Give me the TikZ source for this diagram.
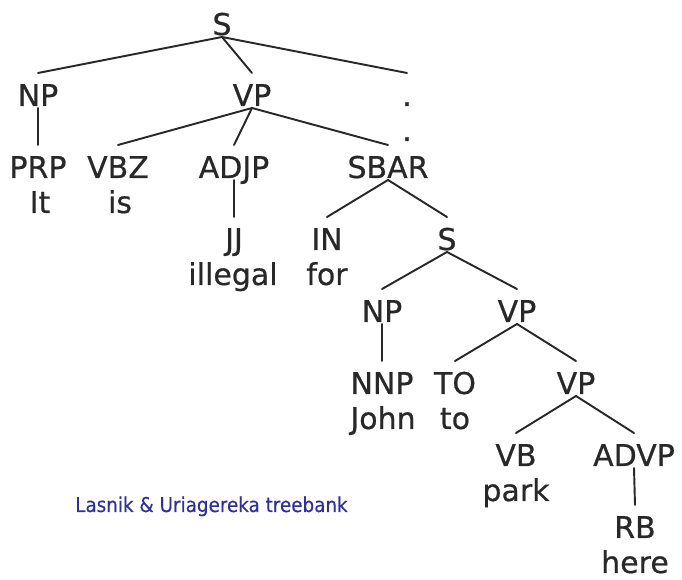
\documentclass[tikz,border=0pt]{standalone}
\usepackage{fontspec}
\setmainfont{DejaVu Sans}
% labels: DejaVu Sans, slightly emboldened
\newfontfamily\treefont{DejaVu Sans}[BoldFont={DejaVu Sans},BoldFeatures={FakeBold=0.6}]
\newfontfamily\capfont{DejaVu Sans Condensed}[BoldFont={DejaVu Sans Condensed},BoldFeatures={FakeBold=0.3}]
\definecolor{ink}{RGB}{40,40,40}
\definecolor{capblue}{RGB}{48,48,150}
\begin{document}
\begin{tikzpicture}[x=0.75pt,y=-0.75pt,
  cat/.style={anchor=base,inner sep=0pt,text=ink,font=\treefont\bfseries\fontsize{22.5}{26}\selectfont},
  word/.style={cat},
  branch/.style={draw=ink,line width=1.45pt,line cap=round}]
\useasboundingbox (0,0) rectangle (682,580);

% level baselines (px, downward): 35, 106, 178, 250, 322, 394, 466, 538
\node[cat] (s)    at (222,35)  {S};
\node[cat] (np)   at (38,106)  {NP};
\node[cat] (vp)   at (252,106) {VP};
\node[cat] (pu)   at (407,106) {.};
\node[word] (wpu) at (407,141) {.};

\node[cat] (prp)  at (38,178)  {PRP};
\node[word] (wit) at (40,213)  {It};
\node[cat] (vbz)  at (118,178) {VBZ};
\node[word] (wis) at (120,213) {is};
\node[cat] (adjp) at (234,178) {ADJP};
\node[cat] (sbar) at (388,178) {SBAR};

\node[cat] (jj)   at (234,250) {JJ};
\node[word] (wil) at (233,285) {illegal};
\node[cat] (in)   at (327,250) {IN};
\node[word] (wfo) at (327,285) {for};
\node[cat] (s2)   at (447,250) {S};

\node[cat] (np2)  at (382,322) {NP};
\node[cat] (vp2)  at (517,322) {VP};

\node[cat] (nnp)  at (382,394) {NNP};
\node[word] (wjo) at (383,429) {John};
\node[cat] (to)   at (455,394) {TO};
\node[word] (wto) at (455,429) {to};
\node[cat] (vp3)  at (576,394) {VP};

\node[cat] (vb)   at (516,466) {VB};
\node[word] (wpa) at (516,501) {park};
\node[cat] (advp) at (634,466) {ADVP};

\node[cat] (rb)   at (635,538) {RB};
\node[word] (whe) at (635,573) {here};

% branches: from just under the parent label to just above the child label
\newcommand\branchto[2]{\draw[branch] ([shift={(0,2)}]#1.base) -- ([shift={(0,-33)}]#2.base);}
\branchto{s}{np}
\branchto{s}{vp}
\branchto{s}{pu}
\branchto{np}{prp}
\branchto{vp}{vbz}
\branchto{vp}{adjp}
\branchto{vp}{sbar}
\branchto{adjp}{jj}
\branchto{sbar}{in}
\branchto{sbar}{s2}
\branchto{s2}{np2}
\branchto{s2}{vp2}
\branchto{np2}{nnp}
\branchto{vp2}{to}
\branchto{vp2}{vp3}
\branchto{vp3}{vb}
\branchto{vp3}{advp}
\branchto{advp}{rb}

\node[anchor=base west,inner sep=0pt,text=capblue,font=\capfont\bfseries\fontsize{15.3}{18}\selectfont] (src) at (75,512) {Lasnik \& Uriagereka treebank};
\end{tikzpicture}
\end{document}
